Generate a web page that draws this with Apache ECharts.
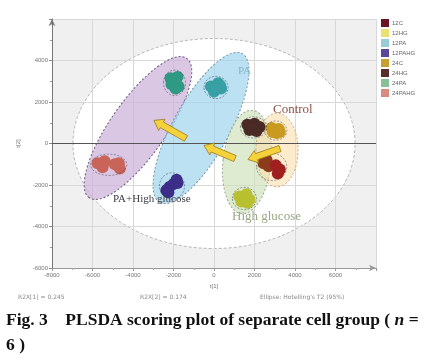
<!DOCTYPE html>
<html><head><meta charset="utf-8">
<script src="https://cdn.jsdelivr.net/npm/echarts@6/dist/echarts.min.js"></script>
<style>html,body{margin:0;padding:0;background:#fff}#c{width:430px;height:360px}</style>
</head><body><div id="c"></div>
<script>
// ---- data ----
const groupNames = ['12C','12HG','12PA','12PAHG','24C','24HG','24PA','24PAHG'];
const legendColors = ['#6a1424','#ece070','#98cad8','#5c4894','#c8a030','#5a2c2c','#88c098','#d88c80'];
const pointColors  = ['#a02020','#b8c030','#38a0a4','#3c2e88','#c89a20','#4a2a24','#2e9a84','#c86458'];
const pts12C   = [[2450,-950],[2700,-1100],[2600,-800],[3050,-1050],[3250,-1250],[3150,-1450]];
const pts12HG  = [[1250,-2550],[1600,-2450],[1750,-2700],[1350,-2800],[1500,-2600],[1650,-2850]];
const pts12PA  = [[-150,2750],[200,2900],[350,2650],[0,2500],[300,2800],[100,2650]];
const pts12PAHG= [[-2350,-2250],[-2200,-2100],[-2000,-1950],[-1850,-1750],[-2250,-2350],[-1800,-1900]];
const pts24C   = [[2850,750],[3200,700],[3100,500],[2900,550],[3000,650],[3250,550]];
const pts24HG  = [[1650,900],[2000,950],[2250,800],[1750,650],[2100,600],[1900,750]];
const pts24PA  = [[-2150,3150],[-1800,3200],[-2100,2850],[-1750,2750],[-2000,3000],[-1900,2650]];
const pts24PAHG= [[-5750,-950],[-5500,-1150],[-5400,-850],[-4900,-1000],[-4650,-1200],[-4700,-950]];
const groupPoints = [pts12C,pts12HG,pts12PA,pts12PAHG,pts24C,pts24HG,pts24PA,pts24PAHG];
// ellipses: [cx, cy, rx, ry, rotationDeg]
const t2Ellipse = [[0,0,6965,5060,0]];
const groupEllipseNames = ['PA+High glucose','PA','High glucose','Control'];
const groupEllipses = [[-3754,747,4200,1330,55],[-642,747,4200,1350,61],[1630,-892,1185,2500,-6],[3112,-313,1040,1780,0]];
// arrows: [tailX, tailY, headX, headY]
const arrows = [[-1383,242,-2963,1113],[1037,-726,-494,-97],[3259,-242,1679,-774]];
const xTicks = [-8000,-6000,-4000,-2000,0,2000,4000,6000];
const yTicks = [-6000,-4000,-2000,0,2000,4000];

// ---- styles ----
const ellStyles = [
  {fill:'rgba(205,180,218,0.75)', stroke:'#6e5a80'},
  {fill:'rgba(160,212,236,0.70)', stroke:'#7896a6'},
  {fill:'rgba(208,226,190,0.70)', stroke:'#9aa890'},
  {fill:'rgba(250,222,170,0.60)', stroke:'#c8b088'}
];
const chart = echarts.init(document.getElementById('c'), null, {renderer:'canvas'});
function ellipseRender(styles, dash){
  return function(params, api){
    const c = api.coord([api.value(0), api.value(1)]);
    const s = api.size([api.value(2), api.value(3)]);
    const st = styles[params.dataIndex];
    return {type:'ellipse', x:c[0], y:c[1], rotation: api.value(4)*Math.PI/180,
      shape:{cx:0, cy:0, rx:s[0], ry:s[1]},
      style:{fill:st.fill, stroke:st.stroke, lineWidth:st.lw||1, lineDash:dash}};
  };
}
// cluster outlines derived from each group's points (bounding box)
const clusterBoxes = groupPoints.map(g=>{
  const xs=g.map(p=>p[0]), ys=g.map(p=>p[1]);
  return [Math.min(...xs),Math.min(...ys),Math.max(...xs),Math.max(...ys)];
});
const series = [
  {type:'custom', z:1, silent:true, data:t2Ellipse, coordinateSystem:'cartesian2d',
   renderItem: ellipseRender([{fill:'#ffffff', stroke:'#b8b8b8', lw:1}], [3,2])},
  {type:'custom', z:3, silent:true, data:groupEllipses,
   renderItem: ellipseRender(ellStyles, [2,2])},
  {type:'custom', z:6, silent:true, data:clusterBoxes,
   renderItem: function(params, api){
     const a = api.coord([api.value(0), api.value(1)]);
     const b = api.coord([api.value(2), api.value(3)]);
     return {type:'ellipse', shape:{cx:(a[0]+b[0])/2, cy:(a[1]+b[1])/2,
       rx:Math.abs(b[0]-a[0])/2+7, ry:Math.abs(b[1]-a[1])/2+7},
       style:{fill:'none', stroke:'rgba(40,40,60,0.55)', lineWidth:0.8, lineDash:[2,1.5]}};
   }},
  {type:'custom', z:7, silent:true, data:arrows,
   renderItem: function(params, api){
     const a = api.coord([api.value(0), api.value(1)]);
     const b = api.coord([api.value(2), api.value(3)]);
     const dx=b[0]-a[0], dy=b[1]-a[1], L=Math.sqrt(dx*dx+dy*dy);
     const ux=dx/L, uy=dy/L, nx=-uy, ny=ux;
     const w=3.2, hw=6.5, hl=9;
     const bx=b[0]-ux*hl, by=b[1]-uy*hl;
     const P=[[a[0]+nx*w,a[1]+ny*w],[bx+nx*w,by+ny*w],[bx+nx*hw,by+ny*hw],[b[0],b[1]],
              [bx-nx*hw,by-ny*hw],[bx-nx*w,by-ny*w],[a[0]-nx*w,a[1]-ny*w]];
     return {type:'polygon', shape:{points:P}, style:{fill:'#f6d23a', stroke:'#9a7a20', lineWidth:0.8}};
   }}
];
groupNames.forEach((n,i)=>{
  const data = groupPoints[i].map((p,j)=>{
    if(i===0 && j<3) return {value:p, itemStyle:{color:'#8c3c1c'}};
    return p;
  });
  series.push({type:'scatter', name:n, z:5, data:data, symbolSize:12,
    itemStyle:{color:pointColors[i], opacity:1},
    markLine: i===0 ? {silent:true, symbol:'none', label:{show:false},
      lineStyle:{color:'#555', width:1, type:'solid'}, data:[{yAxis:0}]} : undefined
  });
});
const option = {
  animation:false,
  grid:{left:52, right:54, top:19, bottom:92, show:true, backgroundColor:'#f0f0f0', borderWidth:0},
  legend:{orient:'vertical', left:376, top:14, itemWidth:8, itemHeight:8, itemGap:2, icon:'rect',
    textStyle:{fontSize:6, color:'#666', padding:[0,0,0,-2]},
    data: groupNames.map((n,i)=>({name:n, itemStyle:{color:legendColors[i], borderWidth:0}}))},
  xAxis:{type:'value', min:-8000, max:8000, interval:2000, z:2,
    name:'t[1]', nameLocation:'middle', nameGap:11, nameTextStyle:{fontSize:6, color:'#777'},
    axisLine:{show:true, onZero:false, lineStyle:{color:'#999'}, symbol:['none','arrow'], symbolSize:[5,7]},
    axisTick:{show:true, length:3, lineStyle:{color:'#999'}},
    minorTick:{show:true, splitNumber:2, length:2, lineStyle:{color:'#aaa'}},
    axisLabel:{fontSize:6, color:'#777', margin:4, showMaxLabel:false,
      formatter:v=> xTicks.indexOf(v)>=0 ? String(v) : ''},
    splitLine:{show:true, lineStyle:{color:'#d8d8d8'}}},
  yAxis:{type:'value', min:-6000, max:6000, interval:2000, z:2,
    name:'t[2]', nameLocation:'middle', nameGap:26, nameRotate:90, nameTextStyle:{fontSize:6, color:'#777'},
    axisLine:{show:true, onZero:false, lineStyle:{color:'#777'}, symbol:['none','arrow'], symbolSize:[5,7]},
    axisTick:{show:true, length:3, lineStyle:{color:'#888'}},
    minorTick:{show:true, splitNumber:2, length:2, lineStyle:{color:'#999'}},
    axisLabel:{fontSize:6, color:'#777', margin:4, showMaxLabel:false,
      formatter:v=> yTicks.indexOf(v)>=0 ? String(v) : ''},
    splitLine:{show:true, lineStyle:{color:'#d8d8d8'}}},
  series: series,
  graphic:[
    {type:'text', left:238, top:66, z:10, style:{text:'PA', font:'11px "Liberation Serif"', fill:'#86b6cc'}},
    {type:'text', left:273, top:103, z:10, style:{text:'Control', font:'13px "Liberation Serif"', fill:'#8c5446'}},
    {type:'text', left:232, top:210, z:10, style:{text:'High glucose', font:'13px "Liberation Serif"', fill:'#98a884'}},
    {type:'text', left:113, top:194, z:10, style:{text:'PA+High glucose', font:'11px "Liberation Serif"', fill:'#3c3c46'}},
    {type:'text', left:18, top:294, style:{text:'R2X[1] = 0.245', font:'6px "DejaVu Sans"', fill:'#888'}},
    {type:'text', left:140, top:294, style:{text:'R2X[2] = 0.174', font:'6px "DejaVu Sans"', fill:'#888'}},
    {type:'text', left:260, top:294, style:{text:"Ellipse: Hotelling's T2 (95%)", font:'6px "DejaVu Sans"', fill:'#888'}},
    {type:'text', left:6, top:311, style:{rich:{b:{font:'bold 17.5px "Liberation Serif"', fill:'#111'}, i:{font:'bold italic 17.5px "Liberation Serif"', fill:'#111'}},
      text:'{b|Fig. 3    PLSDA scoring plot of separate cell group ( }{i|n}{b| =}'}},
    {type:'text', left:6, top:336, style:{text:'6 )', font:'bold 17.5px "Liberation Serif"', fill:'#111'}}
  ]
};
chart.setOption(option);
</script></body></html>
